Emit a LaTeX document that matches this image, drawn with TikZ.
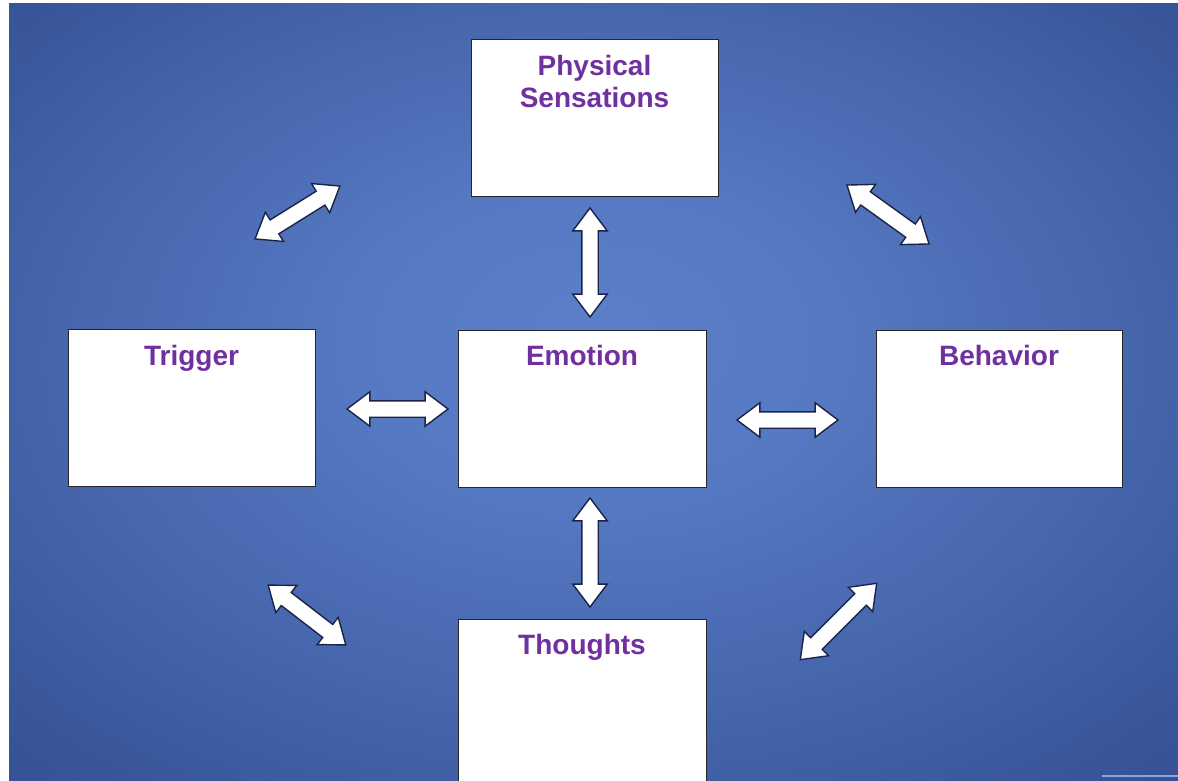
\documentclass[tikz,border=0pt]{standalone}
\usepackage{fontspec}
\setmainfont{Liberation Sans}
\usetikzlibrary{shapes.arrows}

\definecolor{glowc}{HTML}{5B7FC8}
\definecolor{glowm}{HTML}{5679C3}
\definecolor{glowd}{HTML}{4767AE}
\definecolor{glowe}{HTML}{3A579C}
\definecolor{glowf}{HTML}{304B8C}
\definecolor{glowg}{HTML}{2A4080}
\definecolor{titlepurple}{HTML}{7030A0}
\definecolor{arrowline}{HTML}{1B2448}

% soft radial light in the middle of the slide
\pgfdeclareradialshading{slideglow}{\pgfpoint{0bp}{4bp}}{%
  color(0bp)=(glowc); color(10bp)=(glowm); color(22bp)=(glowd); color(32bp)=(glowe);
  color(42bp)=(glowf); color(50bp)=(glowg)}

\tikzset{
  panel/.style={draw=black!85, fill=white, line width=1pt, inner sep=0pt,
    minimum width=247pt, minimum height=157pt},
  paneltitle/.style={anchor=north, inner sep=0pt, align=center, text=titlepurple,
    font=\bfseries\fontsize{28}{32}\selectfont, yshift=-16pt},
  blockarrow/.style={double arrow, draw=arrowline, fill=white, line width=1.4pt,
    inner xsep=0pt, inner ysep=7.5pt, double arrow head extend=9pt,
    double arrow tip angle=74},
}

\begin{document}
\begin{tikzpicture}[x=1pt,y=-1pt]
  \clip (0,0) rectangle (1178,781);
  \fill[white] (0,0) rectangle (1178,781);
  \fill[shading=slideglow] (9,4) rectangle (1178,781);
  \draw[glowc!70!white, line width=2pt] (1102,776) -- (1178,776);

  % boxes
  \node[panel] (phys) at (594.5,118) {};
  \node[panel] (trig) at (191.5,408) {};
  \node[panel, minimum width=248pt] (emo) at (582,408.5) {};
  \node[panel, minimum width=246pt] (beh) at (999,408.5) {};
  \node[panel, minimum width=248pt, minimum height=180pt] (tho) at (582,709) {};

  % box titles
  \node[paneltitle] (physT) at (phys.north) {Physical\\Sensations};
  \node[paneltitle] (trigT) at (trig.north) {Trigger};
  \node[paneltitle] (emoT) at (emo.north) {Emotion};
  \node[paneltitle] (behT) at (beh.north) {Behavior};
  \node[paneltitle] (thoT) at (tho.north) {Thoughts};

  % two-headed block arrows
  \node[blockarrow, minimum height=100pt, rotate=31.9] (arTL) at (297.5,212.5) {};
  \node[blockarrow, minimum height=101pt, rotate=-35.7] (arTR) at (888,214.5) {};
  \node[blockarrow, minimum height=98pt, rotate=-37.6] (arBL) at (307,615) {};
  \node[blockarrow, minimum height=108pt, rotate=45] (arBR) at (838.5,621.5) {};
  \node[blockarrow, minimum height=109pt, rotate=90] (arUp) at (590,262.5) {};
  \node[blockarrow, minimum height=109pt, rotate=90] (arDn) at (590,552.5) {};
  \node[blockarrow, minimum height=101pt] (arL) at (397.5,409) {};
  \node[blockarrow, minimum height=101pt] (arR) at (787.5,420) {};
\end{tikzpicture}
\end{document}
